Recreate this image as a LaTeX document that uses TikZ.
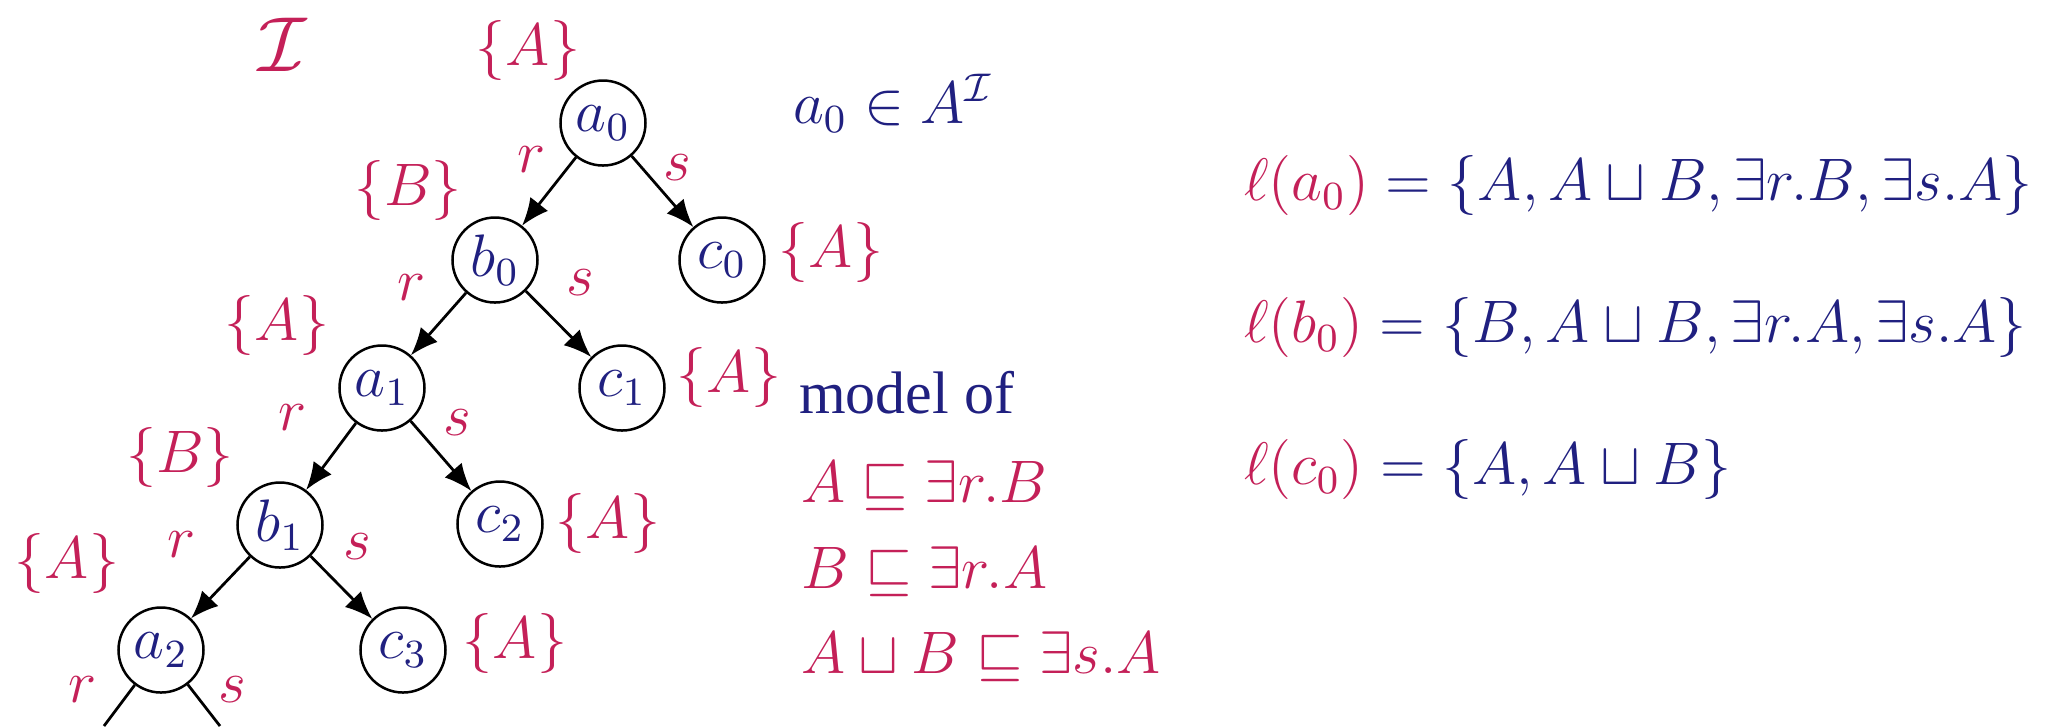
\documentclass[tikz,border=0pt]{standalone}
\usepackage{fontspec}
\setmainfont{Liberation Serif}
\usepackage{graphicx}
\usetikzlibrary{arrows.meta}
\definecolor{lred}{RGB}{196,32,88}
\definecolor{lblue}{RGB}{32,32,128}
\tikzset{
  st/.style={circle, draw=black, line width=0.5pt, minimum size=17pt, inner sep=0pt,
    text=lblue, font=\fontsize{12}{14}\selectfont},
  lab/.style={text=lred, inner sep=0pt, font=\fontsize{12}{14}\selectfont},
  txt/.style={inner sep=0pt, anchor=base west, font=\fontsize{12}{14}\selectfont},
  edgearrow/.style={draw=black, line width=0.55pt, -{Latex[length=5.5pt,width=4.5pt]}},
  edgeplain/.style={draw=black, line width=0.55pt},
}
\begin{document}
\begin{tikzpicture}[x=0.2pt,y=-0.2pt]
\useasboundingbox (0,0) rectangle (2072,726);
% states
\node[st] (a0) at (603,123) {$a_0$};
\node[st] (b0) at (495,260) {$b_0$};
\node[st] (c0) at (722,260) {$c_0$};
\node[st] (a1) at (382,388) {$a_1$};
\node[st] (c1) at (622,388) {$c_1$};
\node[st] (b1) at (280,525) {$b_1$};
\node[st] (c2) at (500,524) {$c_2$};
\node[st] (a2) at (161,650) {$a_2$};
\node[st] (c3) at (403,650) {$c_3$};
\coordinate (ar) at (104,726);
\coordinate (as) at (220,726);
% edges
\draw[edgearrow] (a0) -- (b0);
\draw[edgearrow] (a0) -- (c0);
\draw[edgearrow] (b0) -- (a1);
\draw[edgearrow] (b0) -- (c1);
\draw[edgearrow] (a1) -- (b1);
\draw[edgearrow] (a1) -- (c2);
\draw[edgearrow] (b1) -- (a2);
\draw[edgearrow] (b1) -- (c3);
\draw[edgeplain] (a2) -- (ar);
\draw[edgeplain] (a2) -- (as);
% edge labels
\node[lab] (r0) at (532,160) {$r$};
\node[lab] (s0) at (677,168) {$s$};
\node[lab] (r1) at (412,288) {$r$};
\node[lab] (s1) at (580,283) {$s$};
\node[lab] (r2) at (293,418) {$r$};
\node[lab] (s2) at (457,423) {$s$};
\node[lab] (r3) at (182,545) {$r$};
\node[lab] (s3) at (357,547) {$s$};
\node[lab] (r4) at (83,690) {$r$};
\node[lab] (s4) at (232,690) {$s$};
% concept labels
\node[lab] (interp) at (283,45) {\scalebox{1.3}{$\mathcal{I}$}};
\node[lab] (La0) at (528,50) {$\{A\}$};
\node[lab] (Lb0) at (408,190) {$\{B\}$};
\node[lab] (Lc0) at (831,252) {$\{A\}$};
\node[lab] (La1) at (277,325) {$\{A\}$};
\node[lab] (Lc1) at (729,377) {$\{A\}$};
\node[lab] (Lb1) at (180,457) {$\{B\}$};
\node[lab] (Lc2) at (608,523) {$\{A\}$};
\node[lab] (La2) at (67,563) {$\{A\}$};
\node[lab] (Lc3) at (515,643) {$\{A\}$};
% middle column
\node[txt, text=lblue] (mem) at (792,123) {$a_0\in A^{\mathcal{I}}$};
\node[txt, text=lblue] (model) at (798,413) {model of};
\node[txt, text=lred] (ax1) at (800,502) {$A\sqsubseteq \exists r.B$};
\node[txt, text=lred] (ax2) at (800,588) {$B\sqsubseteq \exists r.A$};
\node[txt, text=lred] (ax3) at (800,673) {$A\sqcup B\sqsubseteq \exists s.A$};
% right column
\node[txt, text=lblue] (la) at (1243,200) {$\textcolor{lred}{\ell(a_0)} = \{A, A\sqcup B, \exists r.B, \exists s.A\}$};
\node[txt, text=lblue] (lb) at (1243,342) {$\textcolor{lred}{\ell(b_0)} = \{B, A\sqcup B, \exists r.A, \exists s.A\}$};
\node[txt, text=lblue] (lc) at (1243,484) {$\textcolor{lred}{\ell(c_0)} = \{A, A\sqcup B\}$};
\end{tikzpicture}
\end{document}
